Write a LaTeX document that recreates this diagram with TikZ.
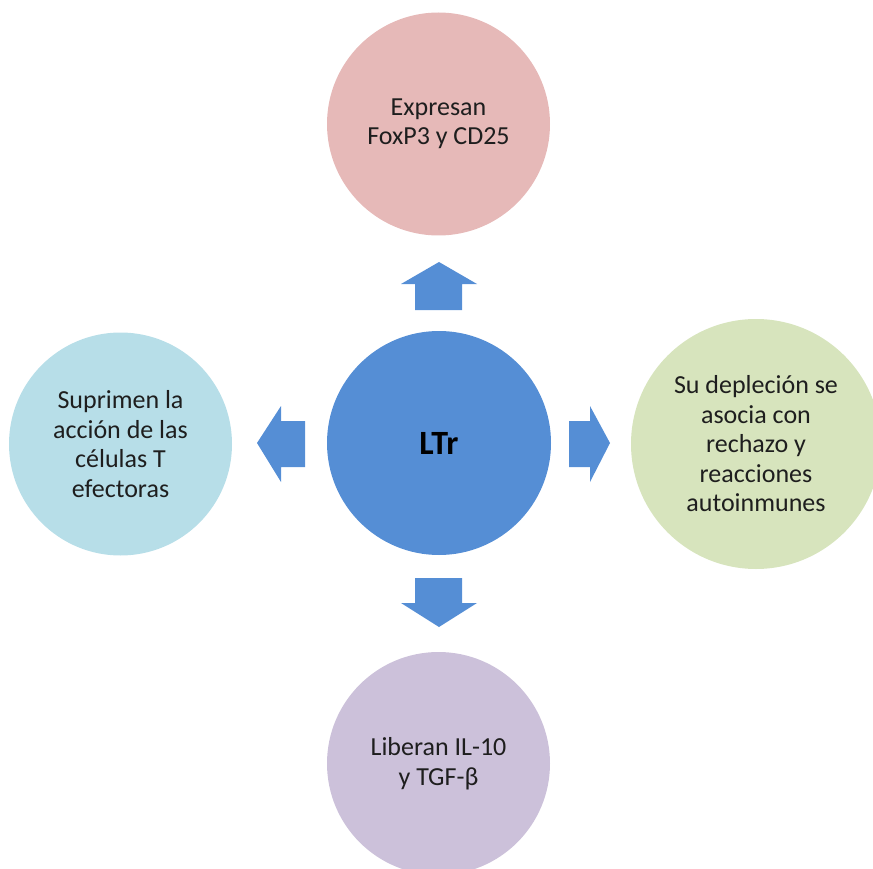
\documentclass[tikz,border=0pt]{standalone}
\usepackage{fontspec}
\setmainfont{Carlito}
\begin{document}
\begin{tikzpicture}[x=1pt,y=-1pt]
  \definecolor{ltrblue}{HTML}{558ED5}
  \definecolor{pinkfill}{HTML}{E6B9B8}
  \definecolor{cyanfill}{HTML}{B7DEE8}
  \definecolor{greenfill}{HTML}{D7E4BD}
  \definecolor{lilacfill}{HTML}{CCC1DA}
  \definecolor{txt}{HTML}{1E1E1E}
  \tikzset{
    bubble/.style={circle, inner sep=0pt, text=txt, align=center,
      font=\fontsize{26}{29.5}\selectfont},
    blockarrow/.style={fill=ltrblue, draw=none}
  }
  \useasboundingbox (0,0) rectangle (873,869);
  \clip (0,0) rectangle (873,869);

  % central cell type
  \node[bubble, fill=ltrblue, minimum size=224pt,
        font=\fontsize{34}{38}\selectfont\bfseries, text=black] (ltr) at (439,443) {LTr};

  % surrounding properties
  \node[bubble, fill=pinkfill, minimum size=223pt] (top) at (438.5,124)
    {Expresan\\FoxP3 y CD25};
  \node[bubble, fill=cyanfill, minimum size=223pt] (left) at (120.5,444)
    {Suprimen la\\acción de las\\células T\\efectoras};
  \node[bubble, fill=greenfill, minimum size=250pt] (right) at (756,444)
    {Su depleción se\\asocia con\\rechazo y\\reacciones\\autoinmunes};
  \node[bubble, fill=lilacfill, minimum size=223pt] (bottom) at (438.5,763.5)
    {Liberan IL-10\\y TGF-β};

  % block arrows pointing outwards
  \fill[blockarrow] (415,310) -- (415,284) -- (401,284) -- (439,262)
    -- (477,284) -- (462,284) -- (462,310) -- cycle;
  \fill[blockarrow] (305,421) -- (281,421) -- (281,406) -- (257,443)
    -- (281,482) -- (281,467) -- (305,467) -- cycle;
  \fill[blockarrow] (569,421) -- (590,421) -- (590,406) -- (610,443)
    -- (590,482) -- (590,467) -- (569,467) -- cycle;
  \fill[blockarrow] (415,578) -- (415,603) -- (401,603) -- (439,627)
    -- (477,603) -- (462,603) -- (462,578) -- cycle;
\end{tikzpicture}
\end{document}
